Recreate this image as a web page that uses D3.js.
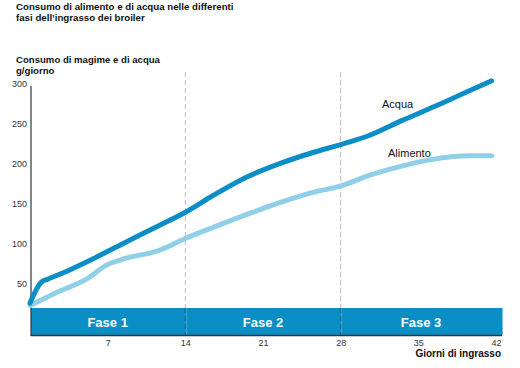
<!DOCTYPE html>
<html><head><meta charset="utf-8">
<script src="https://cdn.jsdelivr.net/npm/d3@7"></script>
<style>body{margin:0;background:#fff}svg{display:block}text{font-family:"Liberation Sans",Arial,sans-serif}</style>
</head><body><svg id="c" width="520" height="368"></svg>
<script>
const acquaDays   = [0, 1, 1.6, 3, 5.6, 8, 11, 14, 16.5, 19.5, 22.5, 25.5, 28, 30.5, 33.5, 36.5, 39.5, 41.6];
const acquaValues = [25, 51, 55, 63, 80, 97, 118, 139, 160, 183, 200, 214, 224, 235, 254, 272, 291, 304];
const alimentoDays   = [0, 2.5, 5.2, 6.8, 8.6, 11.6, 14, 16.5, 19.5, 22.5, 25.5, 28, 30.5, 33.5, 36.5, 39.5, 41.6];
const alimentoValues = [22, 39, 56, 72, 81, 91, 106, 120, 136, 151, 164, 172, 185, 197, 206, 210, 210];
const yTicks = [50, 100, 150, 200, 250, 300];
const xTicks = [7, 14, 21, 28, 35, 42];
const phases = [{name:"Fase 1", from:0, to:14},{name:"Fase 2", from:14, to:28},{name:"Fase 3", from:28, to:42.5}];
const phaseBreaks = [14, 28];

const svg = d3.select("#c");
const x = d3.scaleLinear().domain([0, 42]).range([30, 496]);
const y = d3.scaleLinear().domain([0, 300]).range([323, 84]);
const blue = "#0b8ec6", light = "#8fcfe8";

// titles
svg.append("text").attr("x",16).attr("y",10).attr("font-size",9.7).attr("font-weight","bold").attr("fill","#111").text("Consumo di alimento e di acqua nelle differenti");
svg.append("text").attr("x",16).attr("y",21).attr("font-size",9.7).attr("font-weight","bold").attr("fill","#111").text("fasi dell\u2019ingrasso dei broiler");
svg.append("text").attr("x",16).attr("y",63).attr("font-size",9.6).attr("font-weight","bold").attr("fill","#111").text("Consumo di magime e di acqua");
svg.append("text").attr("x",16).attr("y",74).attr("font-size",9.6).attr("font-weight","bold").attr("fill","#111").text("g/giorno");

const bandTop = 308, bandBot = 335;
// phase band
svg.selectAll("rect.ph").data(phases).enter().append("rect")
  .attr("x", d => x(d.from)+1).attr("width", d => Math.min(x(d.to),502) - x(d.from))
  .attr("y", bandTop).attr("height", bandBot-bandTop).attr("fill", blue);
svg.selectAll("text.ph").data(phases).enter().append("text")
  .attr("x", d => (x(d.from)+Math.min(x(d.to),502))/2).attr("y", 326.5)
  .attr("text-anchor","middle").attr("font-size",13).attr("font-weight","bold").attr("fill","#fff").text(d=>d.name);

// dashed separators
svg.selectAll("line.sep").data(phaseBreaks).enter().append("line")
  .attr("x1", d=>x(d)).attr("x2", d=>x(d)).attr("y1",72).attr("y2",bandTop)
  .attr("stroke","#bbb").attr("stroke-width",1).attr("stroke-dasharray","5,3");
svg.selectAll("line.sep2").data(phaseBreaks).enter().append("line")
  .attr("x1", d=>x(d)).attr("x2", d=>x(d)).attr("y1",bandTop).attr("y2",bandBot)
  .attr("stroke","#1a5f86").attr("stroke-width",1).attr("stroke-dasharray","5,3");

// axes
const yAxis = svg.append("g").attr("transform","translate(31,0)")
  .call(d3.axisLeft(y).tickValues(yTicks).tickSize(0).tickPadding(4));
yAxis.select(".domain").remove();
yAxis.selectAll("text").attr("font-size",9).attr("fill","#333").attr("font-family","Liberation Sans, Arial, sans-serif");
svg.append("line").attr("x1",31).attr("x2",31).attr("y1",86).attr("y2",bandBot+1).attr("stroke","#333").attr("stroke-width",1.2);

const xAxis = svg.append("g").attr("transform",`translate(0,${bandBot})`)
  .call(d3.axisBottom(x).tickValues(xTicks).tickSize(0).tickPadding(5));
xAxis.select(".domain").remove();
xAxis.selectAll("text").attr("font-size",9).attr("fill","#333").attr("font-family","Liberation Sans, Arial, sans-serif");
svg.append("line").attr("x1",31).attr("x2",502).attr("y1",bandBot+0.5).attr("y2",bandBot+0.5).attr("stroke","#333").attr("stroke-width",1.5);
svg.append("text").attr("x",501).attr("y",357).attr("text-anchor","end").attr("font-size",10).attr("font-weight","bold").attr("fill","#111").text("Giorni di ingrasso");

// lines
const line = d3.line().x(d=>x(d[0])).y(d=>y(d[1])).curve(d3.curveMonotoneX);
svg.append("path").datum(d3.zip(alimentoDays, alimentoValues)).attr("d", line)
  .attr("fill","none").attr("stroke",light).attr("stroke-width",5).attr("stroke-linecap","round");
svg.append("path").datum(d3.zip(acquaDays, acquaValues)).attr("d", line)
  .attr("fill","none").attr("stroke",blue).attr("stroke-width",5).attr("stroke-linecap","round");

svg.append("text").attr("x",382).attr("y",108).attr("font-size",11).attr("fill","#111").text("Acqua");
svg.append("text").attr("x",388).attr("y",157).attr("font-size",11).attr("fill","#111").text("Alimento");
</script></body></html>
